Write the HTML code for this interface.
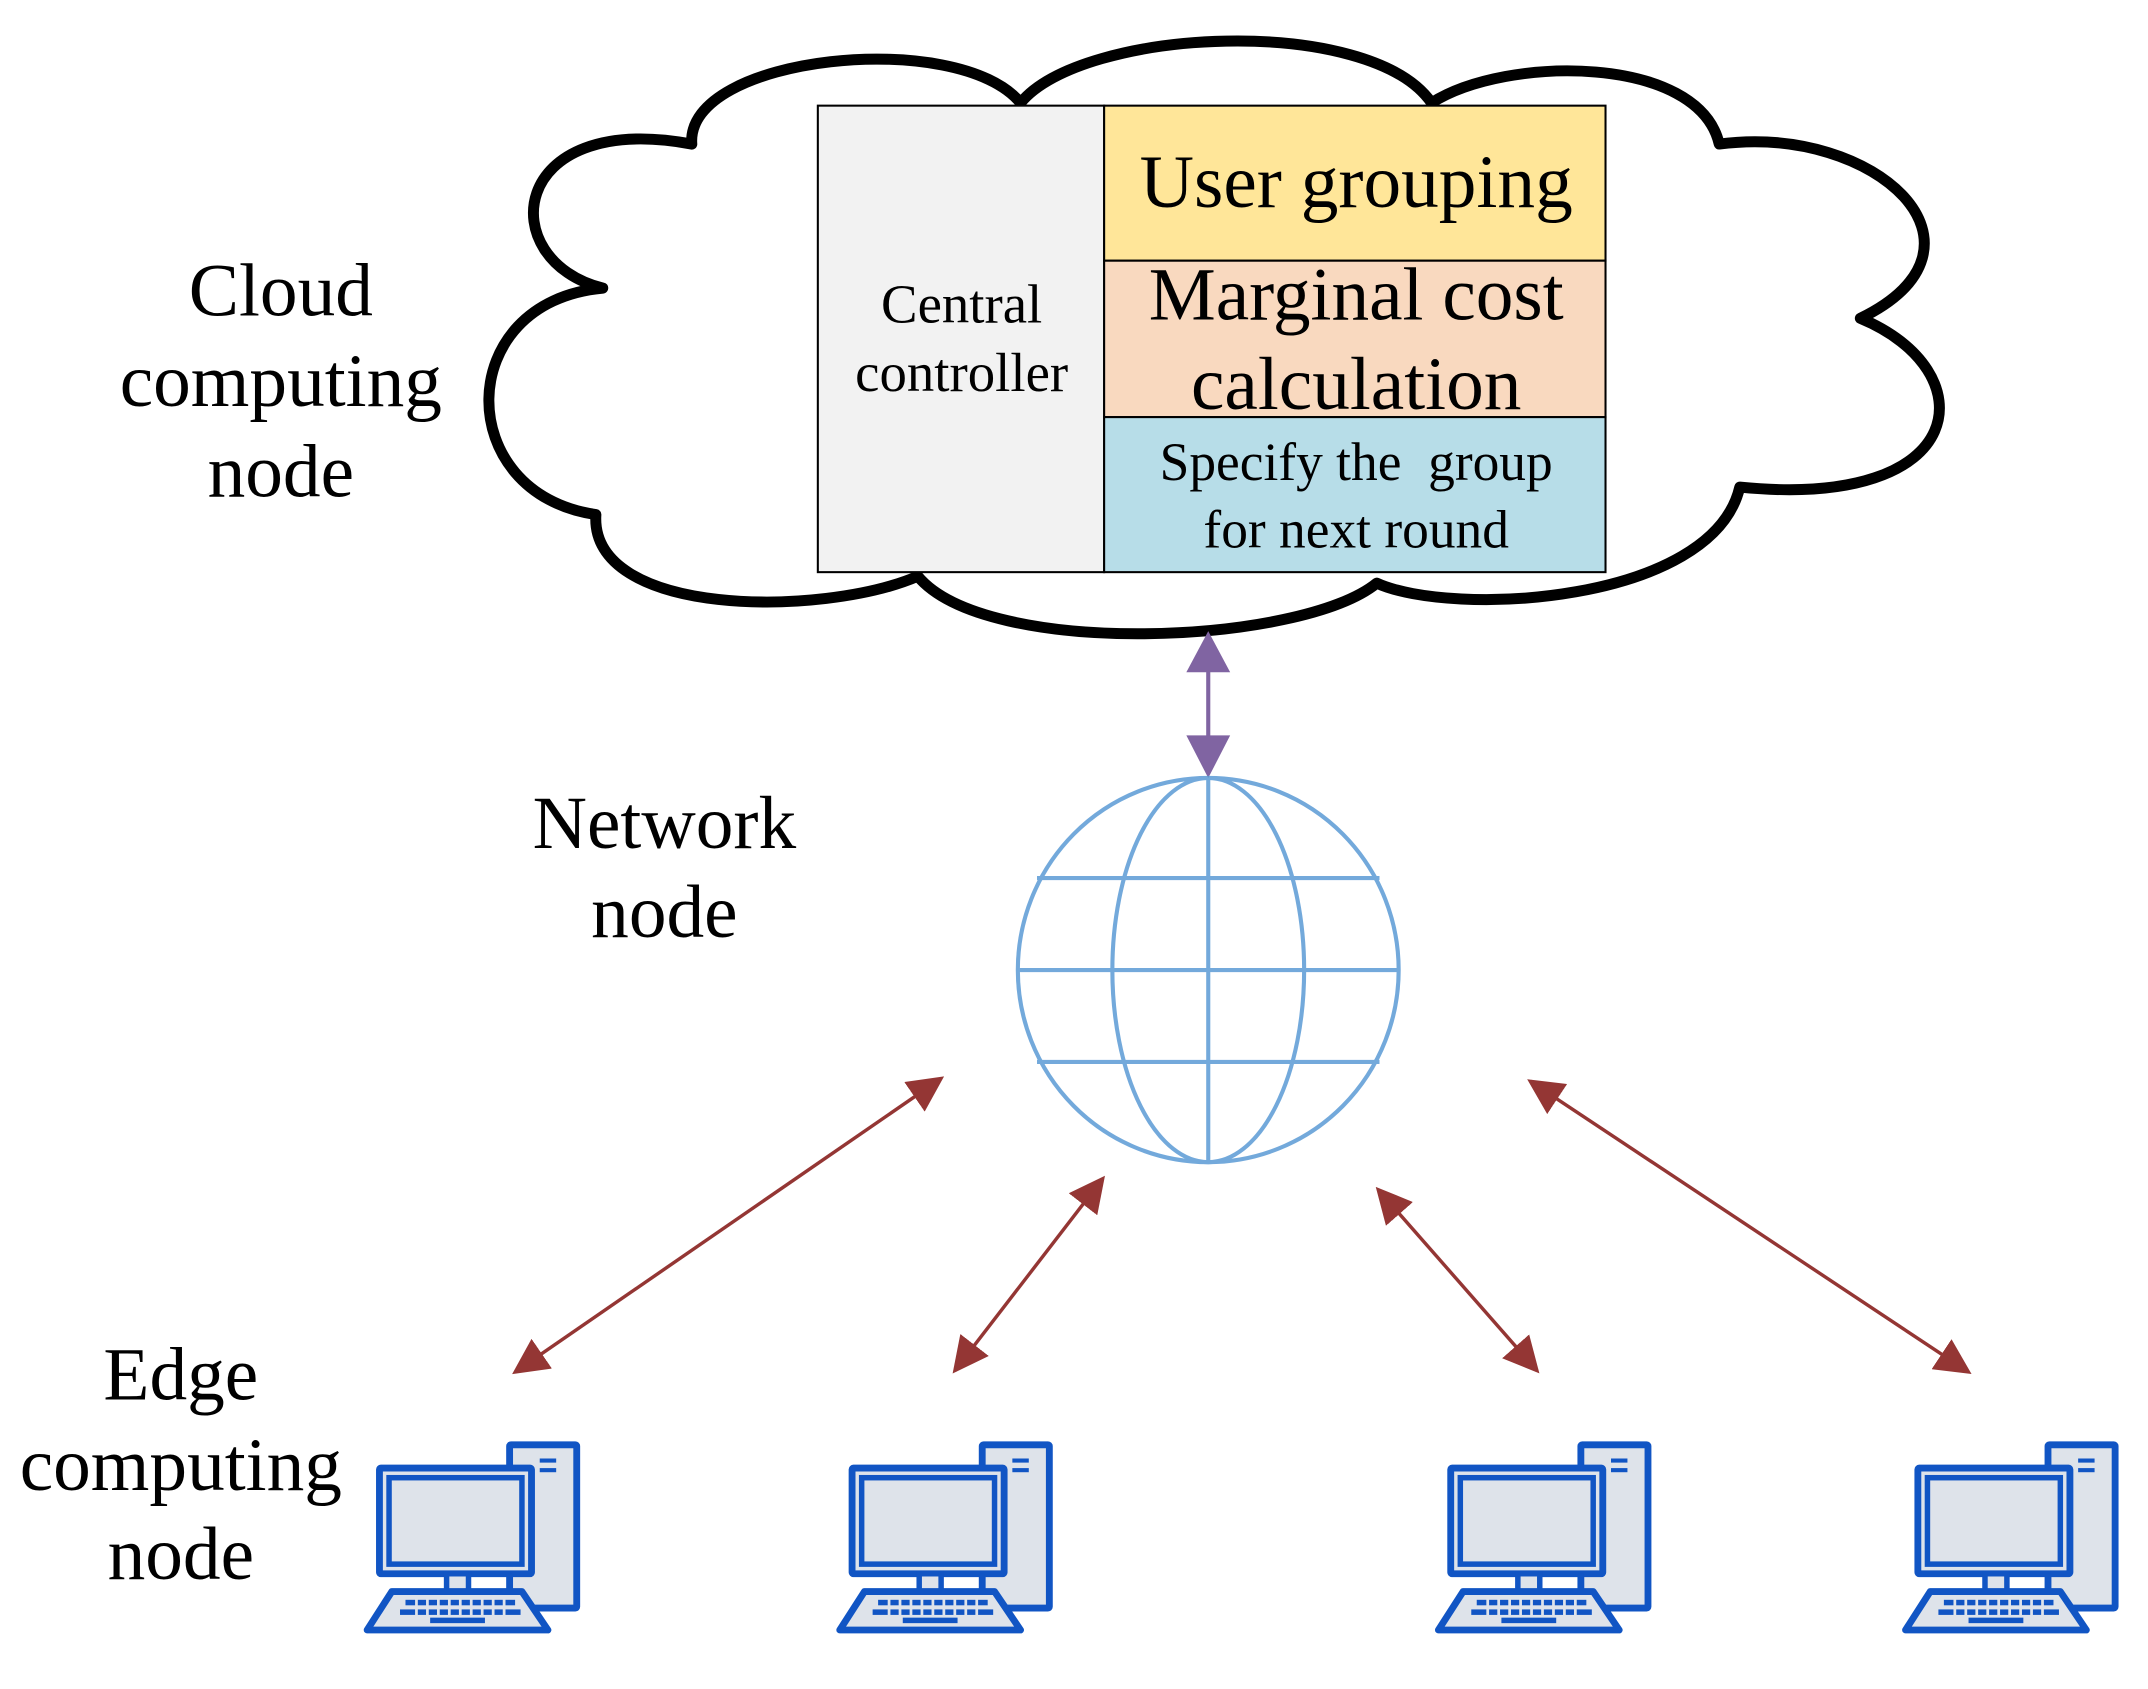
<!DOCTYPE html>
<html><head><style>html,body{margin:0;padding:0;background:#fff}svg{display:block}</style></head>
<body>
<svg width="2148" height="1689" viewBox="0 0 1568 1231" preserveAspectRatio="none" xmlns="http://www.w3.org/2000/svg" font-family="'Liberation Serif',serif">
<defs>
<g id="pc">
  <rect x="104" y="3" width="49" height="119" fill="#dee3ea" stroke="#1155c4" stroke-width="5" rx="1"/>
  <rect x="126" y="13" width="12" height="3" fill="#1155c4"/>
  <rect x="126" y="20" width="12" height="3" fill="#1155c4"/>
  <rect x="9" y="20" width="111" height="77" fill="#dee3ea" stroke="#1155c4" stroke-width="5" rx="1"/>
  <rect x="16" y="27" width="97" height="63" fill="#dee3ea" stroke="#1155c4" stroke-width="4"/>
  <rect x="58" y="97" width="16" height="13" fill="#dee3ea" stroke="#1155c4" stroke-width="4"/>
  <line x1="104" y1="97" x2="104" y2="110" stroke="#1155c4" stroke-width="4"/>
  <polygon points="18,110 113,110 132,138 0,138" fill="#dee3ea" stroke="#1155c4" stroke-width="5" stroke-linejoin="round"/>
  <g fill="#1155c4">
    <rect x="28" y="116" width="80" height="4"/>
    <rect x="24" y="123" width="88" height="4"/>
    <rect x="46" y="129" width="40" height="4"/>
  </g>
  <g stroke="#dee3ea" stroke-width="2">
    <line x1="36" y1="115" x2="36" y2="128"/><line x1="44" y1="115" x2="44" y2="128"/><line x1="52" y1="115" x2="52" y2="128"/><line x1="60" y1="115" x2="60" y2="128"/><line x1="68" y1="115" x2="68" y2="128"/><line x1="76" y1="115" x2="76" y2="128"/><line x1="84" y1="115" x2="84" y2="128"/><line x1="92" y1="115" x2="92" y2="128"/><line x1="100" y1="115" x2="100" y2="128"/>
  </g>
</g>
<marker id="br" viewBox="0 0 10 10" refX="9" refY="5" markerWidth="10.5" markerHeight="10.5" markerUnits="strokeWidth" orient="auto-start-reverse"><path d="M0,0 L10,5 L0,10 z" fill="#943634"/></marker>
</defs>

<path d="M505,105 C500,40 700,20 745,75 C790,20 1000,10 1045,75 C1100,40 1240,40 1255,105 C1370,90 1465,180 1358,232 C1450,270 1440,372 1270,355 C1250,440 1060,450 1005,425 C950,470 720,480 670,420 C600,450 430,450 435,375 C330,360 330,220 440,210 C360,190 370,80 505,105 Z" fill="#fff" stroke="#000" stroke-width="8" stroke-linejoin="round"/>

<rect x="597" y="77" width="209" height="340" fill="#f2f2f2" stroke="#000" stroke-width="1.5"/>
<rect x="806" y="77" width="366" height="113" fill="#ffe699" stroke="#000" stroke-width="1.5"/>
<rect x="806" y="190" width="366" height="114" fill="#f9d9bf" stroke="#000" stroke-width="1.5"/>
<rect x="806" y="304" width="366" height="113" fill="#b7dde8" stroke="#000" stroke-width="1.5"/>
<g text-anchor="middle" fill="#000">
<text x="990" y="151" font-size="55">User grouping</text>
<text x="990" y="233" font-size="55">Marginal cost</text>
<text x="990" y="298" font-size="55">calculation</text>
<text x="990" y="350" font-size="39" xml:space="preserve">Specify the  group</text>
<text x="990" y="399" font-size="39">for next round</text>
<text x="702" y="235" font-size="40">Central</text>
<text x="702" y="285" font-size="40">controller</text>
<text x="205" y="230" font-size="55">Cloud</text>
<text x="205" y="296" font-size="55">computing</text>
<text x="205" y="362" font-size="55">node</text>
<text x="485" y="618" font-size="55">Network</text>
<text x="485" y="683" font-size="55">node</text>
<text x="132" y="1020" font-size="55">Edge</text>
<text x="132" y="1086" font-size="55">computing</text>
<text x="132" y="1151" font-size="55">node</text>
</g>

<line x1="882" y1="485" x2="882" y2="540" stroke="#8064a2" stroke-width="3"/>
<polygon points="882,460 866,490 898,490" fill="#8064a2"/>
<polygon points="882,567 866,536 898,536" fill="#8064a2"/>

<g fill="none" stroke="#5b9bd5" stroke-width="3" opacity="0.85">
<ellipse cx="882" cy="707" rx="139" ry="140"/>
<ellipse cx="882" cy="707" rx="70" ry="140"/>
<line x1="882" y1="567" x2="882" y2="847"/>
<line x1="757" y1="640" x2="1007" y2="640"/>
<line x1="743" y1="707" x2="1021" y2="707"/>
<line x1="757" y1="774" x2="1007" y2="774"/>
</g>

<g stroke="#943634" stroke-width="2.5" marker-start="url(#br)" marker-end="url(#br)">
<line x1="376" y1="1000" x2="687" y2="786"/>
<line x1="697" y1="999" x2="805" y2="859"/>
<line x1="1122" y1="999" x2="1006" y2="867"/>
<line x1="1437" y1="1000" x2="1117" y2="788"/>
</g>

<use href="#pc" x="268" y="1050"/>
<use href="#pc" x="613" y="1050"/>
<use href="#pc" x="1050" y="1050"/>
<use href="#pc" x="1391" y="1050"/>
</svg>
</body></html>
